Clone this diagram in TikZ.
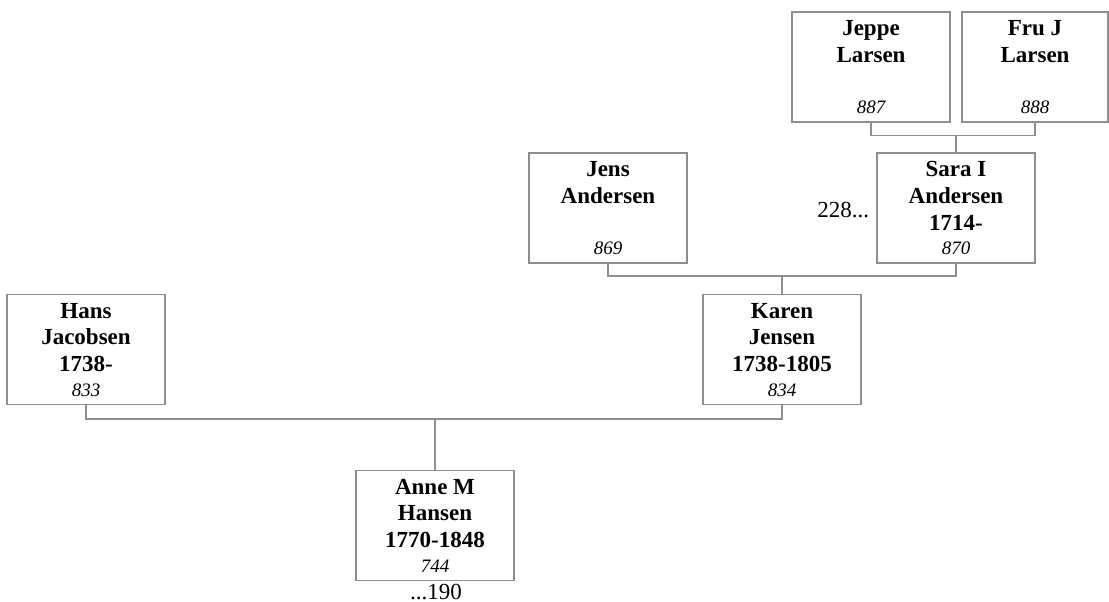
\documentclass[tikz,border=0pt]{standalone}
\usepackage{fontspec}
\setmainfont{Liberation Serif}
\usetikzlibrary{calc}
\definecolor{boxgray}{HTML}{8E8E8E}
\tikzset{
  person/.style={draw=boxgray,line width=1.3pt,minimum width=158pt,minimum height=110pt,inner sep=0pt},
  pname/.style={anchor=north,inner sep=0pt,align=center,font=\bfseries\fontsize{23}{26.7}\selectfont},
  pnum/.style={anchor=base,inner sep=0pt,font=\itshape\fontsize{19}{22}\selectfont},
  pmore/.style={inner sep=0pt,font=\fontsize{23}{26}\selectfont},
  link/.style={draw=boxgray,line width=1.3pt}
}
\begin{document}
\begin{tikzpicture}[x=1pt,y=-1pt]
  \useasboundingbox (0,0) rectangle (1109,602);
  \node[person] (jeppe) at (871,67) {};
  \node[person,minimum width=146pt] (fru) at (1035,67) {};
  \node[person] (jens) at (608,208) {};
  \node[person] (sara) at (956,208) {};
  \node[person] (hans) at (86,349.5) {};
  \node[person] (karen) at (782,349.5) {};
  \node[person] (anne) at (435,525.5) {};
  \node[pname] (jeppe-name) at ($(jeppe.north)+(0,9)$) {Jeppe\\Larsen};
  \node[pname] (fru-name) at ($(fru.north)+(0,9)$) {Fru J\\Larsen};
  \node[pname] (jens-name) at ($(jens.north)+(0,9)$) {Jens\\Andersen};
  \node[pname] (sara-name) at ($(sara.north)+(0,9)$) {Sara I\\Andersen\\1714-};
  \node[pname] (hans-name) at ($(hans.north)+(0,9)$) {Hans\\Jacobsen\\1738-};
  \node[pname] (karen-name) at ($(karen.north)+(0,9)$) {Karen\\Jensen\\1738-1805};
  \node[pname] (anne-name) at ($(anne.north)+(0,9)$) {Anne M\\Hansen\\1770-1848};
  \node[pnum] (jeppe-num) at ($(jeppe.south)+(0,-9)$) {887};
  \node[pnum] (fru-num) at ($(fru.south)+(0,-9)$) {888};
  \node[pnum] (jens-num) at ($(jens.south)+(0,-9)$) {869};
  \node[pnum] (sara-num) at ($(sara.south)+(0,-9)$) {870};
  \node[pnum] (hans-num) at ($(hans.south)+(0,-9)$) {833};
  \node[pnum] (karen-num) at ($(karen.south)+(0,-9)$) {834};
  \node[pnum] (anne-num) at ($(anne.south)+(0,-9)$) {744};
  \node[pmore,anchor=base east] (sara-more) at ($(sara.west)+(-7,9)$) {228...};
  \node[pmore,anchor=base] (anne-more) at ($(anne.south)+(1,18)$) {...190};
  \coordinate (topbar) at ($(sara.north)+(0,-17)$);
  \coordinate (midbar) at ($(karen.north)+(0,-18)$);
  \coordinate (lowbar) at ($(anne.north)+(0,-51)$);
  \draw[link] (jeppe.south) |- (topbar) -| (fru.south);
  \draw[link] (topbar) -- (sara.north);
  \draw[link] (jens.south) |- (midbar) -| (sara.south);
  \draw[link] (midbar) -- (karen.north);
  \draw[link] (hans.south) |- (lowbar) -| (karen.south);
  \draw[link] (lowbar) -- (anne.north);
\end{tikzpicture}
\end{document}
